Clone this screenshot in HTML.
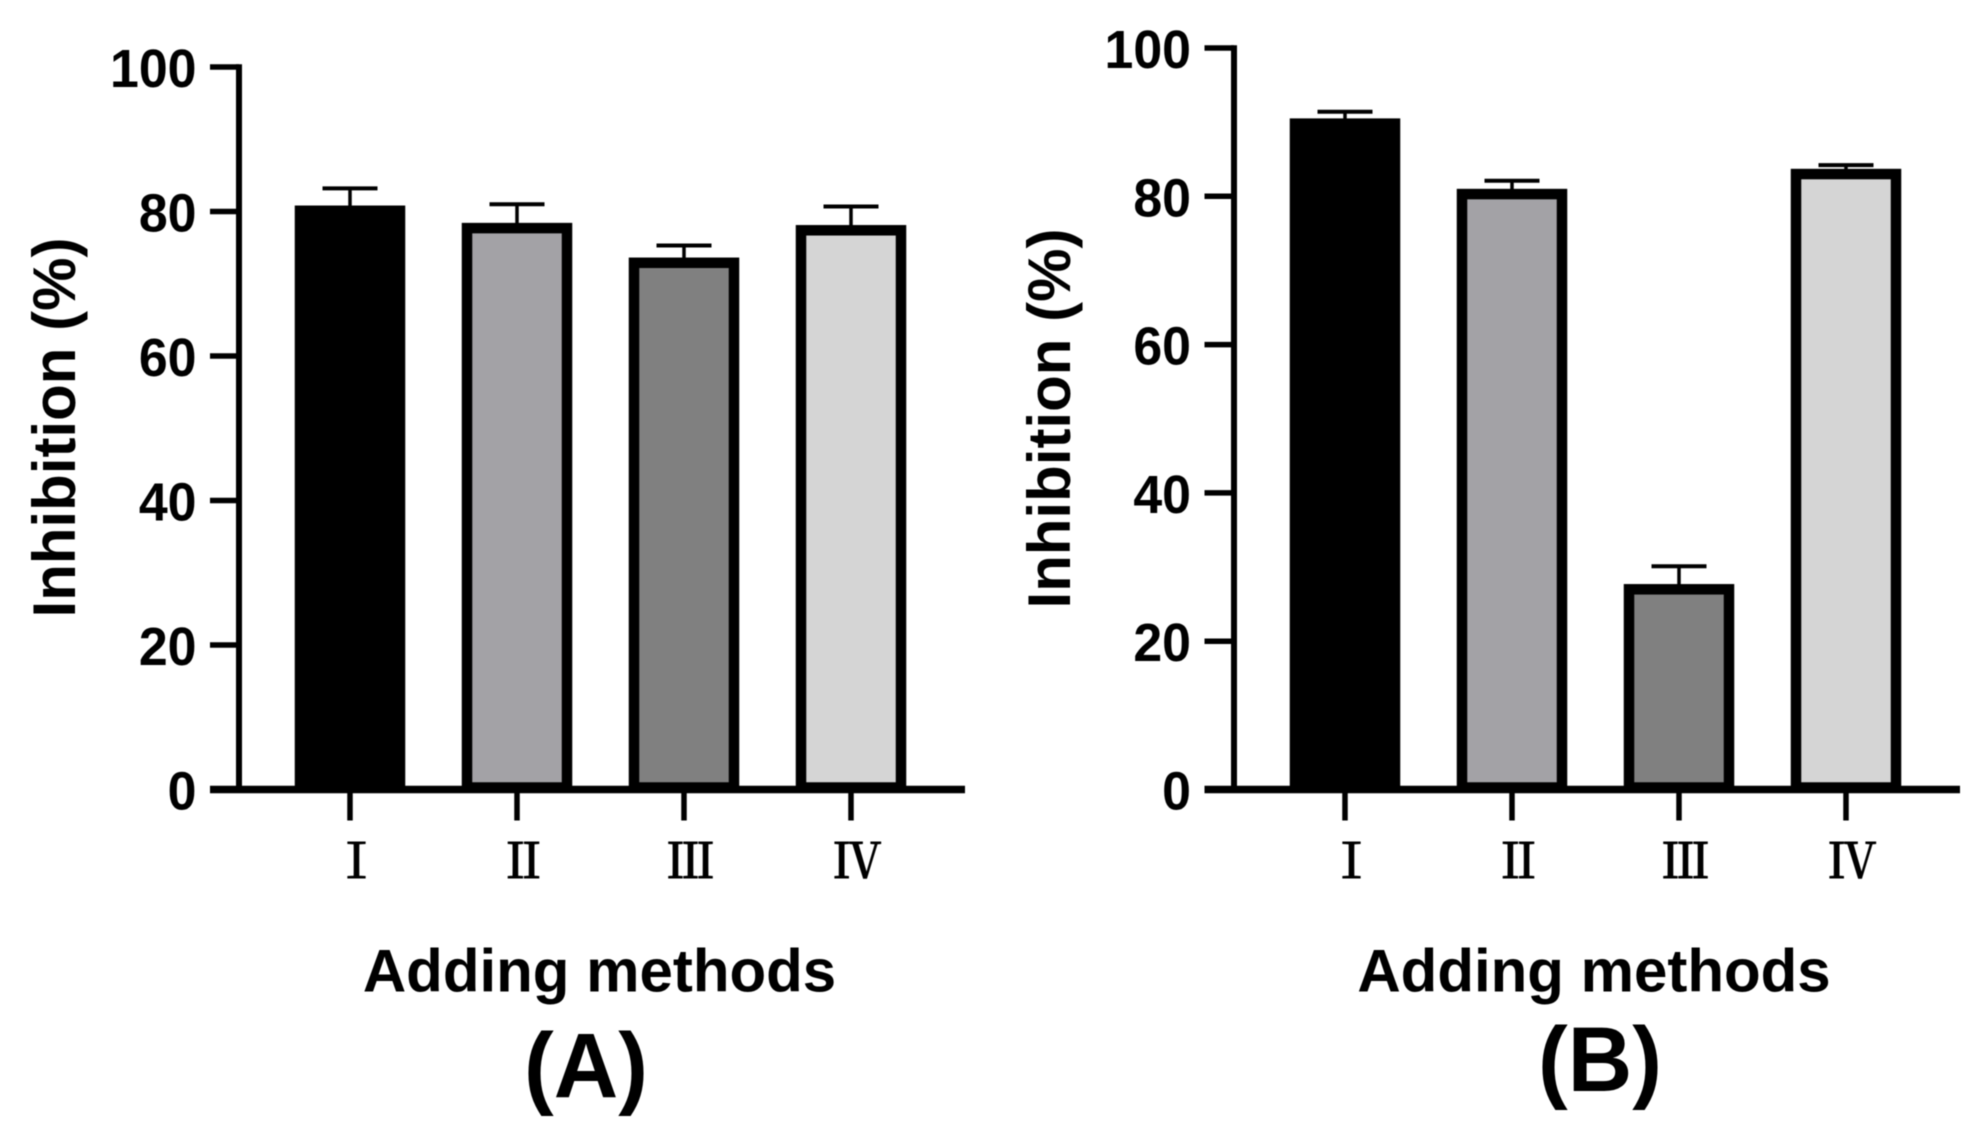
<!DOCTYPE html>
<html lang="en">
<head>
<meta charset="utf-8">
<title>Inhibition by adding method</title>
<style>
html,body{margin:0;padding:0;background:#fff;}
svg{display:block;filter:blur(0.6px);}
text{font-family:"Liberation Sans",sans-serif;font-weight:700;fill:#000;}
.roman{font-family:"Noto Serif CJK SC","Liberation Serif",serif;font-weight:500;stroke:#000;stroke-width:0.9;}
</style>
</head>
<body>
<svg id="figure" xmlns="http://www.w3.org/2000/svg" width="1986" height="1142" viewBox="0 0 1986 1142">
  <rect x="0" y="0" width="1986" height="1142" fill="#ffffff"/>
  <g id="panel-a">
    <text transform="translate(75 427.5) rotate(-90)" text-anchor="middle" font-size="60">Inhibition (%)</text>
    <text x="599.5" y="991.5" text-anchor="middle" font-size="60">Adding methods</text>
    <text transform="translate(586 1097) scale(0.97 1)" text-anchor="middle" font-size="92">(A)</text>
  </g>
  <g id="panel-b">
    <text transform="translate(1070 418.5) rotate(-90)" text-anchor="middle" font-size="60">Inhibition (%)</text>
    <text x="1594" y="991.5" text-anchor="middle" font-size="60">Adding methods</text>
    <text transform="translate(1600 1091) scale(0.97 1)" text-anchor="middle" font-size="92">(B)</text>
  </g>
</svg>
<script>
const categories = ['Ⅰ', 'Ⅱ', 'Ⅲ', 'Ⅳ'];
const categoryKeys = ['i', 'ii', 'iii', 'iv'];
const yTickLabels = [0, 20, 40, 60, 80, 100];
const panelAValues = [80.1, 77.7, 72.9, 77.4];
const panelAErrorTops = [83.2, 81.0, 75.3, 80.7];
const panelBValues = [89.8, 80.3, 27.0, 83.0];
const panelBErrorTops = [91.4, 82.1, 30.1, 84.2];
const barColors = ['#000000', '#a3a2a6', '#808080', '#d5d5d5'];

const NS = 'http://www.w3.org/2000/svg';

function make(tag, parent, props) {
  const el = document.createElementNS(NS, tag);
  for (const k in props) el.setAttribute(k, props[k]);
  parent.appendChild(el);
  return el;
}

function drawPanel(groupId, prefix, geom, values, errorTops) {
  const root = document.getElementById(groupId);
  const yScale = v => geom.y0 + (geom.y100 - geom.y0) * v / 100;
  const xScale = i => geom.x0 + geom.step * i;

  categories.forEach((cat, i) => {
    const cx = xScale(i);
    const top = yScale(values[i]);
    const errTop = yScale(errorTops[i]);

    const stem = make('line', root, {x1: cx, x2: cx, y1: top, y2: errTop, stroke: '#000', 'stroke-width': 3.5});
    
    

    const cap = make('line', root, {x1: cx - 27.5, x2: cx + 27.5, y1: errTop, y2: errTop, stroke: '#000', 'stroke-width': 4});
    
    

    const bar = make('rect', root, {x: cx - 50, width: 100, y: top, height: yScale(0) - top - 2, fill: barColors[i], stroke: '#000', 'stroke-width': 10.5});
    
    

    const tick = make('line', root, {x1: cx, x2: cx, y1: yScale(0), y2: yScale(0) + 31, stroke: '#000', 'stroke-width': 5.5});
    
    

    const label = make('text', root, {x: cx + 6.5, y: 878, 'text-anchor': 'middle', 'font-size': 48, class: 'roman'});
    label.textContent = cat;
    
    
  });

  const yAxis = make('line', root, {x1: geom.axisX, x2: geom.axisX, y1: yScale(100) - 2.75, y2: yScale(0), stroke: '#000', 'stroke-width': 6});
  
  

  const xAxis = make('line', root, {x1: geom.tickStart, x2: geom.xEnd, y1: yScale(0), y2: yScale(0), stroke: '#000', 'stroke-width': 7.5});
  
  

  yTickLabels.forEach(v => {
    const y = yScale(v);
    if (v !== 0) {
      const tick = make('line', root, {x1: geom.tickStart, x2: geom.axisX, y1: y, y2: y, stroke: '#000', 'stroke-width': 5.5});
      
      
    }
    const label = make('text', root, {transform: 'translate(' + (geom.tickStart - 13.5) + ' ' + (y + 20) + ') scale(0.96 1)', 'text-anchor': 'end', 'font-size': 54});
    label.textContent = String(v);
    
    
  });
}

drawPanel('panel-a', 'panel-a', {x0: 350, step: 167, y0: 789.5, y100: 67, axisX: 239, tickStart: 210, xEnd: 965}, panelAValues, panelAErrorTops);
drawPanel('panel-b', 'panel-b', {x0: 1345, step: 167, y0: 789.5, y100: 48, axisX: 1234, tickStart: 1204.5, xEnd: 1960}, panelBValues, panelBErrorTops);
</script>
</body>
</html>
